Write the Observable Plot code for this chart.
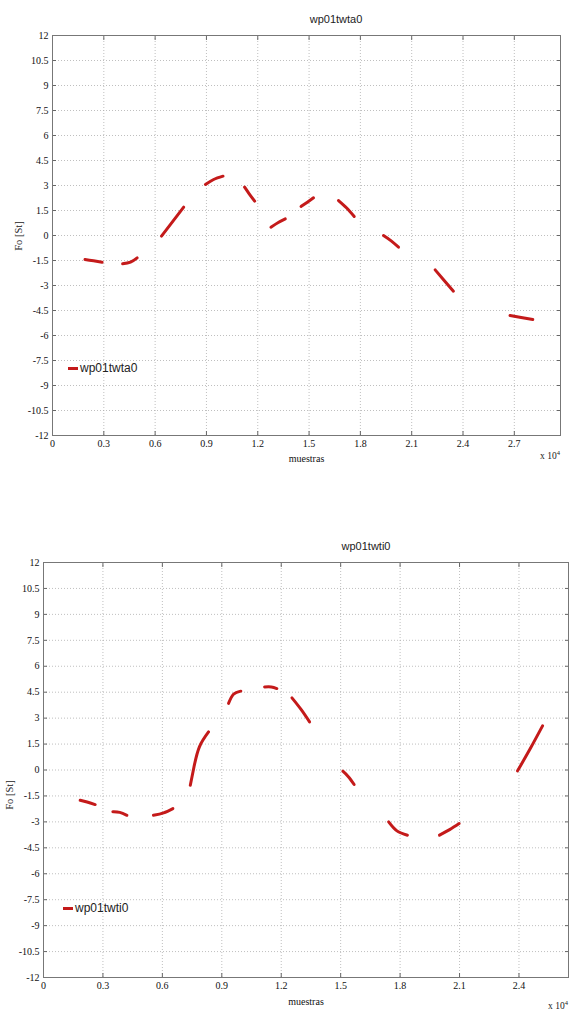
<!DOCTYPE html>
<html><head><meta charset="utf-8">
<script src="https://cdn.jsdelivr.net/npm/d3@7"></script>
<script src="https://cdn.jsdelivr.net/npm/@observablehq/plot@0.6"></script>
<style>
body{margin:0;background:#fff;width:570px;height:1009px;position:relative;overflow:hidden;}
.abs{position:absolute;white-space:nowrap;}
.title{font-family:"Liberation Sans",Arial,sans-serif;font-size:11px;color:#222;transform:translate(-50%,-50%);}
.xe{font-family:"Liberation Serif",serif;font-size:9.5px;color:#222;}
.xe sup{font-size:6.5px;vertical-align:4px;}
.ylab{font-family:"Liberation Serif",serif;font-size:10.5px;color:#222;transform:translate(-50%,-50%) rotate(-90deg);}
.leg{font-family:"Liberation Sans",Arial,sans-serif;font-size:12px;color:#222;display:flex;align-items:center;transform:translateY(-50%);}
.leg .sw{display:inline-block;width:10px;height:3px;background:#c41a1a;margin-right:2px;}
#c1,#c2{position:absolute;left:0;}
#c1{top:0;} #c2{top:500px;}
</style>
</head><body>
<div id="c1"></div><div id="c2"></div>
<div class="abs title" style="left:336px;top:19px">wp01twta0</div>
<div class="abs title" style="left:366px;top:546px">wp01twti0</div>
<div class="abs ylab" style="left:18px;top:236px">Fo [St]</div>
<div class="abs ylab" style="left:9px;top:795px">Fo [St]</div>
<div class="abs xe" style="left:540px;top:449px">x 10<sup>4</sup></div>
<div class="abs xe" style="left:548px;top:999px">x 10<sup>4</sup></div>
<div class="abs leg" style="left:68px;top:368px"><span class="sw"></span>wp01twta0</div>
<div class="abs leg" style="left:63px;top:908px"><span class="sw"></span>wp01twti0</div>
<script>
// shared y ticks
const yTicks = [-12,-10.5,-9,-7.5,-6,-4.5,-3,-1.5,0,1.5,3,4.5,6,7.5,9,10.5,12];

// top panel: wp01twta0  (x in units of 10^4 samples)
const topTicksX = [0,0.3,0.6,0.9,1.2,1.5,1.8,2.1,2.4,2.7];
const topSeg = [1,1,1, 2,2,2, 3,3,3, 4,4,4, 5,5,5, 6,6,6, 7,7,7, 8,8,8, 9,9,9, 10,10,10, 11,11,11];
const topX = [0.19,0.24,0.29, 0.41,0.456,0.495, 0.637,0.70,0.767, 0.894,0.942,0.997, 1.123,1.15,1.182,
              1.277,1.32,1.361, 1.453,1.49,1.526, 1.672,1.72,1.764, 1.935,1.98,2.023, 2.237,2.29,2.344, 2.675,2.74,2.808];
const topY = [-1.44,-1.52,-1.6, -1.7,-1.6,-1.34, -0.04,0.8,1.7, 3.06,3.36,3.56, 2.9,2.5,2.06,
              0.5,0.78,1.0, 1.74,2.0,2.26, 2.1,1.65,1.14, 0.0,-0.32,-0.7, -2.06,-2.7,-3.34, -4.8,-4.92,-5.04];

// bottom panel: wp01twti0
const botTicksX = [0,0.3,0.6,0.9,1.2,1.5,1.8,2.1,2.4];
const botSeg = [1,1,1, 2,2,2, 3,3,3, 4,4,4,4, 5,5,5, 6,6,6, 7,7,7, 8,8,8, 9,9,9, 10,10,10, 11,11,11];
const botX = [0.185,0.22,0.261, 0.35,0.385,0.421, 0.555,0.606,0.653, 0.741,0.76,0.787,0.833, 0.934,0.959,0.996,
              1.116,1.15,1.178, 1.254,1.30,1.343, 1.511,1.54,1.568, 1.742,1.784,1.837, 1.999,2.05,2.098, 2.393,2.46,2.519];
const botY = [-1.75,-1.85,-2.0, -2.42,-2.45,-2.62, -2.62,-2.48,-2.23, -0.88,0.2,1.34,2.2, 3.85,4.38,4.56,
              4.8,4.8,4.71, 4.17,3.5,2.78, -0.07,-0.4,-0.84, -3.0,-3.52,-3.77, -3.77,-3.45,-3.1, -0.05,1.3,2.55];

const RED = "#c41a1a";
const fmt = d => String(d);

function chart({segs, xs, ys, xMax, xTicks, height, mt, mb, ml, mr, xLabelOff}) {
  const rows = segs.map((s, i) => ({seg: s, x: xs[i], y: ys[i]}));
  return Plot.plot({
    width: 570, height,
    marginTop: mt, marginBottom: mb, marginLeft: ml, marginRight: mr,
    x: {domain: [0, xMax], label: null},
    y: {domain: [-12, 12], label: null},
    style: {fontFamily: "'Liberation Serif', serif", fontSize: "10px", color: "#111", background: "transparent", overflow: "visible"},
    marks: [
      Plot.gridX(xTicks, {stroke: "#aaa", strokeOpacity: 0.75, strokeDasharray: "1,2"}),
      Plot.gridY(yTicks, {stroke: "#aaa", strokeOpacity: 0.75, strokeDasharray: "1,2"}),
      Plot.axisX(xTicks, {anchor: "bottom", tickSize: -4, tickPadding: 8, tickFormat: fmt, stroke: "#666",
                          label: "muestras", labelArrow: "none", labelAnchor: "center", labelOffset: xLabelOff}),
      Plot.axisX(xTicks, {anchor: "top", tickSize: -4, tickFormat: () => "", stroke: "#666", label: null}),
      Plot.axisY(yTicks, {anchor: "left", tickSize: -4, tickPadding: 8, tickFormat: fmt, stroke: "#666", label: null}),
      Plot.axisY(yTicks, {anchor: "right", tickSize: -4, tickFormat: () => "", stroke: "#666", label: null}),
      Plot.frame({stroke: "#777"}),
      Plot.line(rows, {x: "x", y: "y", z: "seg", stroke: RED, strokeWidth: 3, strokeLinecap: "round", curve: "natural"})
    ]
  });
}

document.getElementById("c1").append(chart({
  segs: topSeg, xs: topX, ys: topY, xMax: 2.97, xTicks: topTicksX,
  height: 500, mt: 35, mb: 65, ml: 52, mr: 10, xLabelOff: 26
}));
document.getElementById("c2").append(chart({
  segs: botSeg, xs: botX, ys: botY, xMax: 2.65, xTicks: botTicksX,
  height: 509, mt: 62, mb: 32, ml: 43, mr: 2, xLabelOff: 27
}));
</script>
</body></html>
